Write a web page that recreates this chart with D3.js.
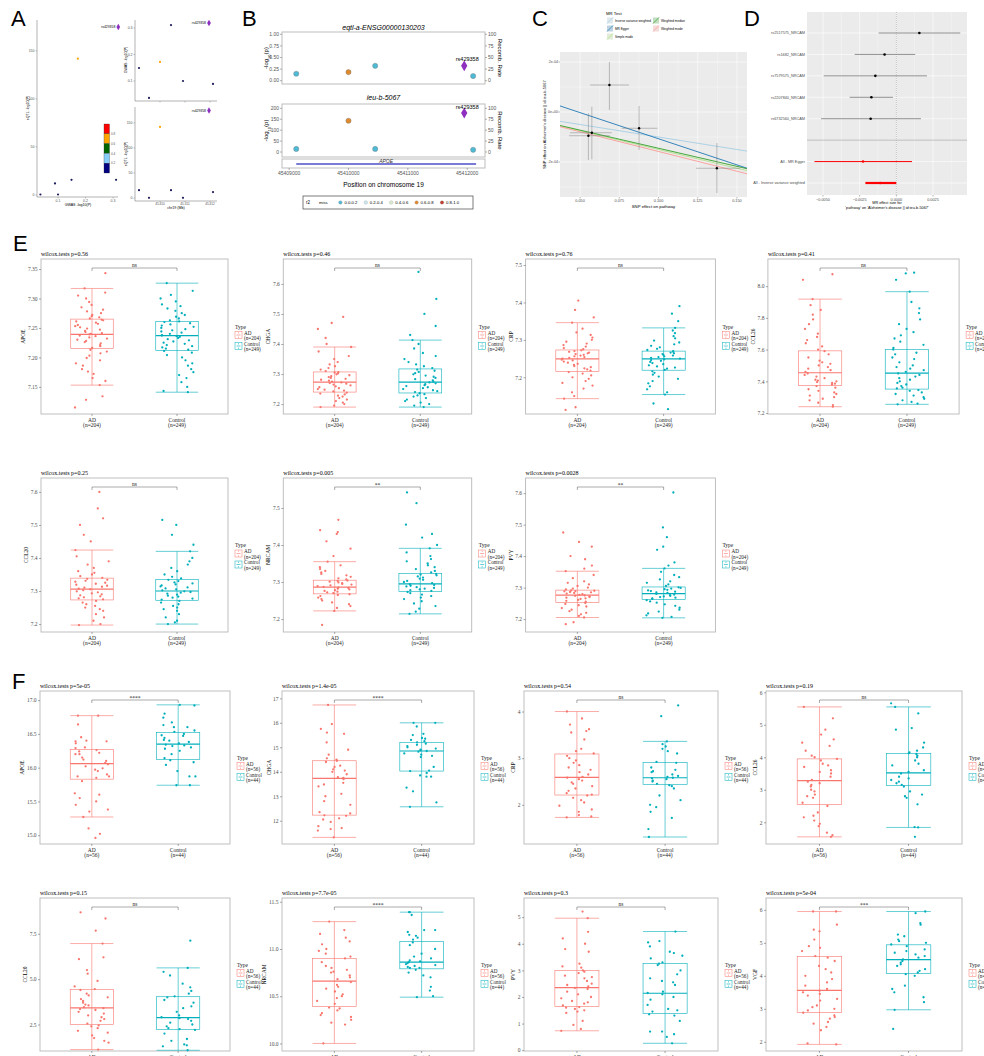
<!DOCTYPE html>
<html>
<head>
<meta charset="utf-8">
<script src="https://cdn.jsdelivr.net/npm/d3@7"></script>
<style>
  body { margin: 0; background: #fff; }
  svg { display: block; }
</style>
</head>
<body>
<div id="figure"></div>
<script>
const width = 984;
const height = 1056;

// ---------- A : locuscompare ----------
const aSnpPos = [45409160, 45409560, 45410000, 45410440, 45410920, 45411960, 45412120];
const aEqtlLogP = [0.149, 0.036, 0.172, 0.311, 0.100, 0.319, 0.089];
const aGwasLogP = [15.8, 0.5, 142, 15.8, 0.5, 175, 12];
const aLdBin = ["low", "low", "high", "low", "low", "lead", "low"];
const aLeadSnp = "rs429358";
const aLdTicks = ["0.8", "0.6", "0.4", "0.2"];

// ---------- B : locuszoom ----------
const bTitles = ["eqtl-a-ENSG00000130203", "ieu-b-5067"];
const bSnpPos = [45409120, 45410000, 45410450, 45411950, 45412100];
const bEqtlLogP = [0.15, 0.185, 0.32, 0.32, 0.10];
const bGwasLogP = [14, 143, 14, 178, 10];
const bR2Bin = ["0.0-0.2", "0.6-0.8", "0.0-0.2", "lead", "0.0-0.2"];
const bR2Levels = ["miss", "0.0-0.2", "0.2-0.4", "0.4-0.6", "0.6-0.8", "0.8-1.0"];
const bPosTicks = [45409000, 45410000, 45411000, 45412000];
const bTopTicks = [0, 0.25, 0.5, 0.75, 1];
const bBottomTicks = [0, 50, 100, 150, 200];
const bRecombTicks = [0, 25, 50, 75, 100];
const bGeneName = "APOE";
const bGeneSpan = [45409120, 45412150];

// ---------- C : MR scatter ----------
const cSnpX = [0.0687, 0.0876, 0.0575, 0.0553, 0.1372];
const cSnpXLo = [0.0564, 0.0766, 0.0436, 0.0430, 0.1240];
const cSnpXHi = [0.0812, 0.0993, 0.0702, 0.0690, 0.1520];
const cSnpY = [1.08e-4, -0.65e-4, -0.83e-4, -0.95e-4, -2.25e-4];
const cSnpYLo = [0.08e-4, -1.52e-4, -1.89e-4, -1.92e-4, -3.24e-4];
const cSnpYHi = [2.0e-4, 0.24e-4, 0.21e-4, -0.05e-4, -1.24e-4];
const cMethods = ["Inverse variance weighted", "MR Egger", "Simple mode", "Weighted median", "Weighted mode"];
const cSlope = [-1.0e-3, -2.09e-3, -1.5e-3, -1.45e-3, -1.58e-3];
const cIntercept = [0, 1.02e-4, 0, 0, 0];
const cXTicks = [0.05, 0.075, 0.1, 0.125, 0.15];
const cYTicks = [-2e-4, 0, 2e-4];
const cYTickLabels = ["-2e-04", "0e+00", "2e-04"];

// ---------- D : MR forest ----------
const dRows = ["rs2517575_NRCAM", "rs1682_NRCAM", "rs7579575_NRCAM", "rs2207840_NRCAM", "rs6732560_NRCAM", "", "All - MR Egger", "All - Inverse variance weighted"];
const dBeta = [0.00157, -0.0008, -0.00143, -0.0017, -0.00175, null, -0.00227, -0.00109];
const dLo = [-0.00121, -0.00284, -0.00495, -0.00318, -0.00513, null, -0.00558, -0.00211];
const dHi = [0.00436, 0.00129, 0.00209, -0.00023, 0.00168, null, 0.00107, 0.0];
const dXTicks = [-0.005, -0.0025, 0, 0.0025];

// ---------- E : GEO expression (AD n=204, Control n=249) ----------
const eGenes = ["APOE", "CHGA", "CRP", "CCL26", "CCL20", "NRCAM", "PVY"];
const eP = ["0.56", "0.46", "0.76", "0.41", "0.25", "0.005", "0.0028"];
const eSig = ["ns", "ns", "ns", "ns", "ns", "**", "**"];
const eN = ["204", "249"];
const eTicks = [[7.15, 7.2, 7.25, 7.3, 7.35], [7.2, 7.3, 7.4, 7.5, 7.6], [7.2, 7.3, 7.4, 7.5], [7.2, 7.4, 7.6, 7.8, 8.0], [7.2, 7.3, 7.4, 7.5, 7.6], [7.2, 7.3, 7.4, 7.5], [7.2, 7.3, 7.4, 7.5, 7.6]];
const eTickFmt = [".2f", ".1f", ".1f", ".1f", ".1f", ".1f", ".1f"];
const eDomain = [[7.104, 7.367], [7.167, 7.683], [7.102, 7.516], [7.194, 8.171], [7.176, 7.642], [7.165, 7.581], [7.159, 7.648]];
const eBoxAD = [[7.153, 7.215, 7.239, 7.265, 7.317], [7.19, 7.24, 7.273, 7.307, 7.39], [7.143, 7.216, 7.249, 7.273, 7.346], [7.24, 7.374, 7.454, 7.592, 7.918], [7.197, 7.273, 7.306, 7.339, 7.424], [7.222, 7.268, 7.286, 7.305, 7.355], [7.205, 7.253, 7.276, 7.292, 7.352]];
const eBoxCt = [[7.141, 7.212, 7.237, 7.261, 7.326], [7.19, 7.237, 7.273, 7.317, 7.413], [7.154, 7.219, 7.249, 7.27, 7.332], [7.255, 7.351, 7.452, 7.60, 7.965], [7.20, 7.272, 7.30, 7.335, 7.42], [7.214, 7.274, 7.295, 7.323, 7.391], [7.204, 7.262, 7.281, 7.302, 7.361]];
const ePtsAD = [
  [7.115,7.128,7.134,7.153,7.16,7.165,7.172,7.176,7.18,7.186,7.19,7.195,7.199,7.203,7.207,7.21,7.213,7.216,7.219,7.221,7.224,7.226,7.228,7.23,7.232,7.234,7.236,7.237,7.239,7.24,7.241,7.243,7.245,7.247,7.249,7.251,7.253,7.255,7.257,7.259,7.261,7.263,7.264,7.266,7.268,7.27,7.272,7.275,7.278,7.281,7.285,7.289,7.294,7.3,7.305,7.31,7.317,7.343],
  [7.19,7.195,7.2,7.205,7.21,7.215,7.22,7.225,7.228,7.232,7.235,7.238,7.242,7.245,7.248,7.25,7.253,7.256,7.259,7.262,7.265,7.268,7.27,7.272,7.275,7.278,7.281,7.284,7.287,7.29,7.293,7.296,7.299,7.302,7.305,7.306,7.31,7.315,7.32,7.326,7.332,7.34,7.35,7.36,7.375,7.39,7.40,7.42,7.45,7.47,7.49],
  [7.113,7.12,7.143,7.15,7.16,7.17,7.178,7.185,7.19,7.196,7.2,7.205,7.21,7.214,7.218,7.221,7.224,7.227,7.23,7.233,7.236,7.239,7.242,7.245,7.247,7.25,7.252,7.254,7.256,7.258,7.26,7.262,7.264,7.266,7.268,7.27,7.272,7.275,7.278,7.282,7.286,7.29,7.295,7.3,7.306,7.313,7.32,7.33,7.346,7.36,7.38,7.405],
  [7.24,7.25,7.265,7.28,7.29,7.3,7.31,7.32,7.33,7.34,7.35,7.36,7.37,7.38,7.385,7.39,7.395,7.4,7.405,7.41,7.42,7.43,7.44,7.45,7.46,7.47,7.48,7.49,7.5,7.51,7.52,7.53,7.55,7.57,7.59,7.6,7.62,7.64,7.66,7.68,7.7,7.73,7.76,7.79,7.82,7.85,7.88,7.918,8.04,8.075],
  [7.197,7.2,7.21,7.22,7.23,7.24,7.245,7.25,7.255,7.26,7.265,7.27,7.275,7.278,7.281,7.284,7.287,7.29,7.293,7.296,7.299,7.302,7.305,7.307,7.31,7.313,7.316,7.319,7.322,7.325,7.328,7.331,7.334,7.337,7.34,7.345,7.35,7.355,7.36,7.37,7.38,7.39,7.405,7.424,7.45,7.47,7.5,7.52,7.55,7.6],
  [7.184,7.222,7.23,7.235,7.24,7.245,7.25,7.254,7.258,7.262,7.265,7.267,7.27,7.272,7.274,7.276,7.278,7.28,7.282,7.284,7.285,7.287,7.289,7.291,7.293,7.295,7.297,7.299,7.301,7.303,7.304,7.307,7.31,7.314,7.318,7.322,7.326,7.33,7.335,7.34,7.345,7.355,7.37,7.39,7.41,7.43,7.435,7.44,7.468],
  [7.184,7.19,7.205,7.21,7.215,7.22,7.225,7.23,7.235,7.24,7.244,7.248,7.251,7.255,7.258,7.261,7.264,7.266,7.268,7.27,7.272,7.274,7.275,7.277,7.279,7.281,7.283,7.285,7.286,7.288,7.289,7.29,7.291,7.294,7.297,7.3,7.305,7.31,7.315,7.32,7.33,7.34,7.352,7.36,7.37,7.39,7.4,7.43,7.445,7.475]
];
const ePtsCt = [
  [7.141,7.143,7.15,7.158,7.165,7.17,7.175,7.18,7.186,7.19,7.195,7.2,7.204,7.208,7.211,7.213,7.215,7.217,7.219,7.221,7.223,7.225,7.227,7.229,7.231,7.233,7.235,7.236,7.237,7.238,7.24,7.242,7.244,7.246,7.248,7.25,7.252,7.254,7.256,7.258,7.26,7.261,7.263,7.266,7.269,7.272,7.275,7.279,7.283,7.287,7.29,7.295,7.3,7.306,7.313,7.326],
  [7.19,7.195,7.2,7.205,7.21,7.215,7.22,7.225,7.229,7.233,7.236,7.24,7.243,7.246,7.25,7.253,7.256,7.26,7.263,7.266,7.269,7.272,7.275,7.279,7.283,7.287,7.291,7.295,7.299,7.303,7.307,7.311,7.315,7.32,7.326,7.332,7.34,7.35,7.36,7.37,7.385,7.4,7.413,7.43,7.46,7.5,7.55,7.64],
  [7.115,7.13,7.154,7.16,7.168,7.176,7.184,7.19,7.196,7.202,7.207,7.212,7.216,7.22,7.223,7.226,7.229,7.232,7.235,7.238,7.241,7.244,7.246,7.248,7.25,7.252,7.254,7.256,7.258,7.26,7.262,7.264,7.266,7.268,7.27,7.273,7.276,7.28,7.284,7.288,7.293,7.298,7.304,7.31,7.318,7.325,7.332,7.35,7.37,7.39],
  [7.255,7.26,7.27,7.28,7.29,7.3,7.31,7.32,7.33,7.34,7.345,7.355,7.36,7.37,7.38,7.39,7.4,7.41,7.42,7.43,7.44,7.45,7.46,7.47,7.48,7.49,7.5,7.52,7.54,7.55,7.57,7.58,7.6,7.61,7.63,7.65,7.67,7.69,7.71,7.73,7.76,7.79,7.83,7.86,7.9,7.965,8.04,8.08,8.085],
  [7.2,7.205,7.21,7.22,7.23,7.24,7.245,7.25,7.255,7.26,7.265,7.27,7.274,7.277,7.28,7.283,7.286,7.289,7.292,7.295,7.297,7.299,7.302,7.305,7.308,7.311,7.314,7.317,7.32,7.323,7.326,7.33,7.334,7.338,7.343,7.35,7.36,7.37,7.38,7.39,7.4,7.42,7.44,7.47,7.5,7.515],
  [7.214,7.22,7.228,7.235,7.242,7.248,7.254,7.258,7.262,7.266,7.27,7.273,7.276,7.278,7.28,7.282,7.284,7.286,7.288,7.29,7.292,7.294,7.297,7.3,7.303,7.306,7.309,7.312,7.315,7.318,7.32,7.322,7.326,7.33,7.335,7.34,7.345,7.35,7.356,7.362,7.37,7.38,7.391,7.4,7.42,7.43,7.455,7.513,7.542],
  [7.204,7.207,7.212,7.218,7.224,7.23,7.236,7.242,7.247,7.252,7.256,7.26,7.264,7.266,7.268,7.27,7.272,7.274,7.276,7.278,7.28,7.283,7.285,7.287,7.289,7.291,7.293,7.295,7.297,7.299,7.301,7.305,7.31,7.315,7.32,7.326,7.333,7.34,7.35,7.361,7.37,7.38,7.42,7.43,7.46,7.491,7.602]
];

// ---------- F : validation set (AD n=56, Control n=44) ----------
const fGenes = ["APOE", "CHGA", "CRP", "CCL26", "CCL20", "NRCAM", "PVY", "VGF"];
const fP = ["5e-05", "1.4e-05", "0.54", "0.19", "0.15", "7.7e-05", "0.3", "5e-04"];
const fSig = ["****", "****", "ns", "ns", "ns", "****", "ns", "***"];
const fN = ["56", "44"];
const fTicks = [[15, 15.5, 16, 16.5, 17], [12, 13, 14, 15, 16, 17], [2, 3, 4], [2, 3, 4, 5, 6], [2.5, 5, 7.5], [10, 10.5, 11, 11.5], [0, 1, 2, 3, 4, 5], [2, 3, 4, 5, 6]];
const fTickFmt = [".1f", "d", "d", "d", ".1f", ".1f", "d", "d"];
const fDomain = [[14.87, 17.135], [11.05, 17.3], [1.16, 4.44], [1.33, 6.04], [1.04, 9.47], [9.92, 11.54], [-0.03, 5.72], [1.72, 6.36]];
const fBoxAD = [[15.27, 15.83, 16.06, 16.27, 16.77], [11.32, 12.23, 13.73, 14.45, 16.73], [1.73, 2.21, 2.59, 3.09, 4.0], [1.55, 2.54, 3.28, 3.95, 5.55], [1.12, 2.5, 3.42, 4.43, 6.96], [10.0, 10.39, 10.66, 10.90, 11.29], [0.73, 1.64, 2.35, 3.0, 4.96], [1.92, 2.89, 3.56, 4.58, 5.95]];
const fBoxCt = [[15.74, 16.12, 16.35, 16.52, 16.93], [12.57, 14.03, 14.85, 15.19, 16.0], [1.31, 2.44, 2.58, 2.91, 3.36], [1.84, 3.13, 3.52, 4.11, 5.55], [1.08, 2.23, 2.88, 4.03, 5.62], [10.49, 10.79, 10.86, 11.08, 11.39], [0.26, 1.38, 2.14, 3.26, 4.46], [2.97, 4.07, 4.49, 4.94, 5.95]];
const fPtsAD = [
  [14.96,15.02,15.1,15.27,15.35,15.38,15.45,15.5,15.55,15.6,15.62,15.8,15.85,15.87,15.87,15.9,15.95,15.97,15.99,16.02,16.05,16.07,16.1,16.12,16.15,16.2,16.2,16.22,16.24,16.26,16.29,16.3,16.36,16.39,16.39,16.4,16.45,16.64,16.77,16.77],
  [11.32,11.6,11.66,11.7,11.78,11.95,12.05,12.1,12.2,12.22,12.3,12.35,12.65,12.8,13.0,13.1,13.4,13.48,13.55,13.7,13.75,13.78,13.9,14.0,14.05,14.1,14.2,14.25,14.4,14.45,14.5,14.55,14.7,14.9,15.2,15.55,15.6,15.75,15.95,16.73],
  [1.73,1.75,1.78,1.85,1.9,1.98,2.05,2.1,2.15,2.2,2.22,2.25,2.3,2.35,2.4,2.45,2.48,2.52,2.55,2.58,2.6,2.65,2.7,2.75,2.8,2.85,2.9,2.95,3.0,3.05,3.1,3.15,3.2,3.4,3.55,3.58,3.62,3.72,3.85,4.0],
  [1.55,1.6,1.68,1.88,1.95,2.05,2.15,2.2,2.3,2.5,2.6,2.75,2.8,2.85,2.95,3.0,3.1,3.15,3.2,3.25,3.3,3.4,3.5,3.55,3.6,3.7,3.75,3.8,3.9,3.95,4.0,4.05,4.2,4.35,4.45,4.55,4.7,4.85,5.2,5.55],
  [1.12,1.5,1.6,1.75,1.9,2.05,2.15,2.3,2.4,2.45,2.55,2.7,2.8,2.9,3.0,3.1,3.2,3.3,3.35,3.4,3.45,3.55,3.6,3.7,3.8,3.9,4.0,4.1,4.2,4.4,4.45,4.6,4.9,5.3,5.5,6.1,6.2,6.96,7.67,8.34,8.68],
  [10.0,10.2,10.22,10.25,10.28,10.3,10.32,10.35,10.37,10.38,10.42,10.45,10.48,10.5,10.52,10.55,10.58,10.6,10.62,10.65,10.68,10.7,10.72,10.75,10.76,10.78,10.8,10.82,10.86,10.9,10.92,10.95,10.98,11.0,11.05,11.08,11.12,11.16,11.2,11.29],
  [0.73,0.8,0.95,1.1,1.4,1.45,1.5,1.55,1.6,1.62,1.68,1.75,1.8,1.85,1.95,2.0,2.1,2.2,2.3,2.34,2.4,2.45,2.5,2.6,2.7,2.75,2.8,2.9,2.95,3.0,3.1,3.15,3.25,3.7,3.8,4.0,4.2,4.45,4.96,5.21],
  [1.92,1.95,2.35,2.45,2.55,2.6,2.7,2.75,2.8,2.88,2.95,3.0,3.05,3.1,3.25,3.3,3.4,3.45,3.5,3.55,3.6,3.7,3.8,3.9,4.0,4.1,4.2,4.3,4.45,4.55,4.6,4.75,4.85,4.9,5.1,5.35,5.4,5.55,5.95,5.95]
];
const fPtsCt = [
  [15.74,15.74,15.87,15.87,15.95,16.04,16.08,16.11,16.14,16.2,16.25,16.28,16.3,16.32,16.33,16.34,16.36,16.38,16.4,16.41,16.44,16.47,16.48,16.5,16.53,16.55,16.6,16.6,16.63,16.67,16.74,16.8,16.92,16.93],
  [12.57,12.75,13.2,13.35,13.8,13.8,13.85,13.95,14.03,14.05,14.2,14.6,14.65,14.7,14.75,14.82,14.85,14.88,14.9,14.95,15.0,15.05,15.1,15.15,15.2,15.25,15.3,15.35,15.38,15.5,15.55,15.85,16.0,16.0],
  [1.31,1.48,1.72,1.85,1.95,2.0,2.1,2.2,2.35,2.4,2.42,2.45,2.5,2.52,2.55,2.57,2.58,2.6,2.62,2.65,2.7,2.72,2.75,2.8,2.9,2.92,3.1,3.15,3.2,3.25,3.3,3.36,3.9,4.13],
  [1.55,1.84,1.85,2.55,2.75,2.8,2.85,2.95,3.1,3.15,3.2,3.25,3.3,3.35,3.4,3.5,3.55,3.6,3.75,3.8,3.9,4.0,4.05,4.1,4.12,4.15,4.2,4.3,4.45,4.85,4.9,5.35,5.55,5.66],
  [1.08,1.3,1.35,1.4,1.6,1.7,2.0,2.2,2.25,2.3,2.4,2.5,2.6,2.7,2.8,2.85,2.9,3.0,3.2,3.4,3.5,3.7,3.85,4.0,4.05,4.2,4.35,4.55,4.75,5.2,5.4,5.62,7.12],
  [10.49,10.5,10.56,10.6,10.7,10.72,10.75,10.78,10.8,10.8,10.81,10.82,10.83,10.84,10.85,10.86,10.87,10.88,10.9,10.92,10.95,11.0,11.04,11.07,11.1,11.12,11.14,11.15,11.18,11.2,11.2,11.36,11.39,11.39],
  [0.26,0.5,0.6,0.7,0.7,1.1,1.3,1.35,1.45,1.5,1.55,1.7,1.9,2.0,2.1,2.15,2.2,2.45,2.55,2.6,2.7,2.85,3.0,3.2,3.25,3.3,3.45,3.55,3.65,3.7,3.9,4.05,4.1,4.46],
  [2.39,2.97,3.2,3.35,3.5,3.6,3.7,4.0,4.05,4.1,4.15,4.2,4.3,4.35,4.4,4.45,4.5,4.55,4.6,4.65,4.7,4.75,4.8,4.9,4.95,5.0,5.05,5.1,5.2,5.25,5.55,5.6,5.9,5.95]
];

// ---------- drawing ----------
const sans = '"Liberation Sans", Arial, sans-serif';
const serif = '"Liberation Serif", "Times New Roman", serif';
const adColor = "#F8766D";
const ctColor = "#00AFBB";

var svg = d3.select("#figure")
    .append("svg")
    .attr("width", width)
    .attr("height", height);

function label(g, x, y, s, size, opt) {
    opt = opt || {};
    const t = g.append("text")
        .attr("x", x).attr("y", y)
        .text(s)
        .style("font-family", opt.font || sans)
        .style("font-size", size + "px")
        .attr("fill", opt.fill || "#000");
    if (opt.anchor) t.attr("text-anchor", opt.anchor);
    if (opt.rotate) t.attr("transform", "rotate(" + opt.rotate + "," + x + "," + y + ")");
    if (opt.italic) t.style("font-style", "italic");
    return t;
}

function line(g, x1, y1, x2, y2, color, w) {
    return g.append("line")
        .attr("x1", x1).attr("y1", y1).attr("x2", x2).attr("y2", y2)
        .attr("stroke", color).attr("stroke-width", w);
}

// panel letters
[["A", 11, 26], ["B", 242, 26], ["C", 532, 26], ["D", 744, 26], ["E", 13, 251], ["F", 12, 689]]
    .forEach(d => label(svg, d[1], d[2], d[0], 22));

// ===== Panel A =====
(function () {
    const g = svg.append("g");
    const ldColor = { low: "#1c1c5a", high: "#FFA500", lead: "#8E2FBF" };
    const axc = "#666";
    const xMain = d3.scaleLinear().domain([0.0236, 0.318]).range([37, 118]);
    const yMain = d3.scaleLinear().domain([-2.1, 182.3]).range([197, 20]);
    line(g, 37, 20, 37, 197, axc, 0.5);
    line(g, 37, 197, 118, 197, axc, 0.5);
    [0, 50, 100, 150].forEach(v => {
        line(g, 35.5, yMain(v), 37, yMain(v), axc, 0.4);
        label(g, 34.5, yMain(v) + 1.2, v, 3.5, { anchor: "end", fill: "#555" });
    });
    [0.1, 0.2, 0.3].forEach(v => {
        line(g, xMain(v), 197, xMain(v), 198.5, axc, 0.4);
        label(g, xMain(v), 201.5, v.toFixed(1), 3.5, { anchor: "middle", fill: "#555" });
    });
    label(g, 78, 205.5, "GWAS -log10(P)", 3.6, { anchor: "middle" });
    label(g, 29, 108, "eQTL -log10(P)", 3.6, { anchor: "middle", rotate: -90 });

    // colour bar
    const ldBar = ["#FF0000", "#FFA500", "#006400", "#87CEFA", "#000080"];
    const yBar = d3.scaleBand().domain(d3.range(ldBar.length)).range([124, 173]);
    g.selectAll(".ldbar").data(ldBar).join("rect")
        .attr("x", 104).attr("y", (d, i) => yBar(i))
        .attr("width", 5.5).attr("height", yBar.bandwidth())
        .attr("fill", d => d).attr("stroke", "#333").attr("stroke-width", 0.3);
    aLdTicks.forEach((t, i) => label(g, 111, yBar(i + 1) + 1.2, t, 3, { fill: "#555" }));

    function snps(xs, ys, xs2, ys2) {
        aLdBin.forEach((b, i) => {
            if (b === "lead") {
                g.append("path")
                    .attr("d", d3.symbol(d3.symbolDiamond).size(12)())
                    .attr("transform", "translate(" + xs(xs2[i]) + "," + ys(ys2[i]) + ")")
                    .attr("fill", ldColor.lead);
                label(g, xs(xs2[i]) - 3, ys(ys2[i]) + 1.2, aLeadSnp, 3.4, { anchor: "end" });
            } else {
                g.append("circle").attr("cx", xs(xs2[i])).attr("cy", ys(ys2[i])).attr("r", 1.1)
                    .attr("fill", ldColor[b]);
            }
        });
    }
    snps(xMain, yMain, aEqtlLogP, aGwasLogP);

    const xPos = d3.scaleLinear().domain([45409000, 45412280]).range([135, 217]);
    const yTop = d3.scaleLinear().domain([0.0245, 0.33]).range([101, 20]);
    const yBot = d3.scaleLinear().domain([-5.9, 181.8]).range([201, 107]);
    line(g, 135, 20, 135, 101, axc, 0.5);
    line(g, 135, 101, 217, 101, axc, 0.5);
    line(g, 135, 107, 135, 201, axc, 0.5);
    line(g, 135, 201, 217, 201, axc, 0.5);
    [0.1, 0.2, 0.3].forEach(v => {
        line(g, 133.5, yTop(v), 135, yTop(v), axc, 0.4);
        label(g, 132.5, yTop(v) + 1.2, v.toFixed(1), 3.5, { anchor: "end", fill: "#555" });
    });
    [0, 50, 100, 150].forEach(v => {
        line(g, 133.5, yBot(v), 135, yBot(v), axc, 0.4);
        label(g, 132.5, yBot(v) + 1.2, v, 3.5, { anchor: "end", fill: "#555" });
    });
    [45410000, 45411000, 45412000].forEach(v => {
        line(g, xPos(v), 101, xPos(v), 102.5, axc, 0.4);
        line(g, xPos(v), 201, xPos(v), 202.5, axc, 0.4);
        label(g, xPos(v), 205, (v / 1e6).toFixed(3), 3.2, { anchor: "middle", fill: "#555" });
    });
    label(g, 176, 208.5, "chr19 (Mb)", 3.6, { anchor: "middle" });
    label(g, 127, 60, "GWAS -log10(P)", 3.6, { anchor: "middle", rotate: -90 });
    label(g, 127, 154, "eQTL -log10(P)", 3.6, { anchor: "middle", rotate: -90 });
    snps(xPos, yTop, aSnpPos, aEqtlLogP);
    snps(xPos, yBot, aSnpPos, aGwasLogP);
})();

// ===== Panel B =====
(function () {
    const g = svg.append("g");
    const r2Color = { "miss": "none", "0.0-0.2": "#4DBBD5", "0.2-0.4": "#c9e8ef", "0.4-0.6": "#d8ecd0", "0.6-0.8": "#E08A2E", "0.8-1.0": "#C0392B" };
    const left = 282, right = 485;
    const x = d3.scaleLinear().domain([45408880, 45412300]).range([left, right]);
    const panels = [
        { top: 32, bottom: 84, y: d3.scaleLinear().domain([0, 1]).range([80.7, 34.3]), ticks: bTopTicks, fmt: d3.format(".2f"), vals: bEqtlLogP, title: bTitles[0], ty: 29.5 },
        { top: 104, bottom: 157, y: d3.scaleLinear().domain([0, 200]).range([152, 108.3]), ticks: bBottomTicks, fmt: d3.format("d"), vals: bGwasLogP, title: bTitles[1], ty: 100 }
    ];
    panels.forEach(p => {
        label(g, (left + right) / 2, p.ty, p.title, 7, { anchor: "middle", italic: true });
        g.append("rect").attr("x", left).attr("y", p.top).attr("width", right - left).attr("height", p.bottom - p.top)
            .attr("fill", "#fff").attr("stroke", "#bdbdbd").attr("stroke-width", 1);
        p.ticks.forEach(v => {
            line(g, left - 2, p.y(v), left, p.y(v), "#666", 0.5);
            label(g, left - 3, p.y(v) + 1.7, p.fmt(v), 5, { anchor: "end", fill: "#555" });
        });
        const yr = d3.scaleLinear().domain([0, 100]).range(p.y.range());
        bRecombTicks.forEach(v => {
            line(g, right, yr(v), right + 2, yr(v), "#666", 0.5);
            label(g, right + 3, yr(v) + 1.7, v, 5, { fill: "#555" });
        });
        const mid = (p.top + p.bottom) / 2;
        const yl = label(g, 268, mid, "-log", 6, { anchor: "middle", rotate: -90 });
        yl.append("tspan").attr("baseline-shift", "sub").style("font-size", "4px").text("10");
        yl.append("tspan").text("(p)");
        label(g, 498, mid, "Recomb. Rate", 6, { anchor: "middle", rotate: 90 });
        bR2Bin.forEach((b, i) => {
            if (b === "lead") {
                g.append("path")
                    .attr("d", d3.symbol(d3.symbolDiamond).size(34)())
                    .attr("transform", "translate(" + x(bSnpPos[i]) + "," + p.y(p.vals[i]) + ")")
                    .attr("fill", "#8E2FBF");
                label(g, x(bSnpPos[i]) + 3, p.y(p.vals[i]) - 4.5, "rs429358", 5.5, { anchor: "middle" });
            } else {
                g.append("circle").attr("cx", x(bSnpPos[i])).attr("cy", p.y(p.vals[i])).attr("r", 2.6)
                    .attr("fill", r2Color[b]).attr("stroke", "#777").attr("stroke-width", 0.4);
            }
        });
    });
    // gene track
    g.append("rect").attr("x", left).attr("y", 159).attr("width", right - left).attr("height", 9)
        .attr("fill", "#fff").attr("stroke", "#bdbdbd").attr("stroke-width", 1);
    line(g, x(bGeneSpan[0]), 164, x(bGeneSpan[1]), 164, "#4F4FC8", 1.6);
    label(g, (x(bGeneSpan[0]) + x(bGeneSpan[1])) / 2, 163, bGeneName, 5, { anchor: "middle", italic: true, fill: "#333" });
    bPosTicks.forEach(v => {
        line(g, x(v), 168, x(v), 170, "#666", 0.5);
        label(g, x(v), 175, v, 5, { anchor: "middle", fill: "#555" });
    });
    label(g, (left + right) / 2, 187, "Position on chromosome 19", 6.5, { anchor: "middle" });
    // legend
    g.append("rect").attr("x", 303).attr("y", 196).attr("width", 170).attr("height", 13)
        .attr("fill", "#fff").attr("stroke", "#444").attr("stroke-width", 0.7);
    label(g, 306, 204.3, "r2", 4.5);
    bR2Levels.forEach((lv, i) => {
        const kx = 315 + i * 25.4;
        g.append("circle").attr("cx", kx).attr("cy", 202.5).attr("r", 1.8)
            .attr("fill", r2Color[lv]).attr("stroke", lv === "miss" ? "none" : "#999").attr("stroke-width", 0.3);
        label(g, kx + 4, 204.2, lv, 4.2);
    });
})();

// ===== Panel C =====
(function () {
    const g = svg.append("g");
    const methodColor = ["#A6CEE3", "#1F78B4", "#B2DF8A", "#33A02C", "#FB9A99"];
    const L = 560, R = 747, T = 52, B = 197;
    const x = d3.scaleLinear().domain([0.0372, 0.1564]).range([L, R]);
    const y = d3.scaleLinear().domain([-3.4e-4, 2.4e-4]).range([B, T]);
    g.append("rect").attr("x", L).attr("y", T).attr("width", R - L).attr("height", B - T).attr("fill", "#EBEBEB");
    [0.0625, 0.0875, 0.1125, 0.1375].forEach(v => line(g, x(v), T, x(v), B, "#fff", 0.3));
    [-3e-4, -1e-4, 1e-4].forEach(v => line(g, L, y(v), R, y(v), "#fff", 0.3));
    cXTicks.forEach(v => line(g, x(v), T, x(v), B, "#fff", 0.6));
    cYTicks.forEach(v => line(g, L, y(v), R, y(v), "#fff", 0.6));

    g.append("clipPath").attr("id", "clipC").append("rect")
        .attr("x", L).attr("y", T).attr("width", R - L).attr("height", B - T);
    const lines = g.append("g").attr("clip-path", "url(#clipC)");
    cMethods.forEach((m, i) => {
        const f = v => cIntercept[i] + cSlope[i] * v;
        lines.append("line")
            .attr("x1", x(0.0372)).attr("y1", y(f(0.0372)))
            .attr("x2", x(0.1564)).attr("y2", y(f(0.1564)))
            .attr("stroke", methodColor[i]).attr("stroke-width", 0.9);
    });
    cSnpX.forEach((v, i) => {
        line(g, x(v), y(cSnpYLo[i]), x(v), y(cSnpYHi[i]), "#777", 0.45);
        line(g, x(cSnpXLo[i]), y(cSnpY[i]), x(cSnpXHi[i]), y(cSnpY[i]), "#777", 0.45);
        g.append("circle").attr("cx", x(v)).attr("cy", y(cSnpY[i])).attr("r", 1.2).attr("fill", "#000");
    });
    cXTicks.forEach(v => {
        line(g, x(v), B, x(v), B + 1.5, "#444", 0.4);
        label(g, x(v), B + 5, d3.format(".3f")(v), 3.8, { anchor: "middle", fill: "#4d4d4d" });
    });
    cYTicks.forEach((v, i) => {
        line(g, L - 1.5, y(v), L, y(v), "#444", 0.4);
        label(g, L - 2, y(v) + 1.2, cYTickLabels[i], 3.6, { anchor: "end", fill: "#4d4d4d" });
    });
    label(g, (L + R) / 2, 208, "SNP effect on pathway", 4.3, { anchor: "middle" });
    label(g, 546, (T + B) / 2, "SNP effect on Alzheimer's disease || id:ieu-b-5067", 4, { anchor: "middle", rotate: -90 });

    // legend
    label(g, 606, 15, "MR Test", 4.3);
    const slots = [[607, 17.5], [607, 25.5], [607, 33.5], [653, 17.5], [653, 25.5]];
    cMethods.forEach((m, i) => {
        const kx = slots[i][0], ky = slots[i][1];
        g.append("rect").attr("x", kx).attr("y", ky).attr("width", 6).attr("height", 6)
            .attr("fill", "#F2F2F2");
        g.append("rect").attr("x", kx).attr("y", ky).attr("width", 6).attr("height", 6)
            .attr("fill", methodColor[i]).attr("opacity", 0.25);
        line(g, kx, ky + 6, kx + 6, ky, methodColor[i], 0.7);
        label(g, kx + 8, ky + 4.2, m, 3.1);
    });
})();

// ===== Panel D =====
(function () {
    const g = svg.append("g");
    const L = 807, R = 967, T = 12, B = 195;
    const x = d3.scaleLinear().domain([-0.00609, 0.00482]).range([L, R]);
    const y = d3.scalePoint().domain(dRows).range([33, 183]);
    g.append("rect").attr("x", L).attr("y", T).attr("width", R - L).attr("height", B - T).attr("fill", "#EBEBEB");
    [-0.00375, -0.00125, 0.00125, 0.00375].forEach(v => line(g, x(v), T, x(v), B, "#fff", 0.3));
    dXTicks.forEach(v => line(g, x(v), T, x(v), B, "#fff", 0.6));
    dRows.forEach(r => { if (r !== "") line(g, L, y(r), R, y(r), "#fff", 0.6); });
    line(g, L, y(""), R, y(""), "#A0A0A0", 0.6);
    line(g, x(0), T, x(0), B, "#9a9a9a", 0.6).attr("stroke-dasharray", "1,1");
    dRows.forEach((r, i) => {
        if (dBeta[i] === null) return;
        const mr = i > 5;
        const col = mr ? "#FF0000" : "#777";
        const w = i === 7 ? 2.2 : (mr ? 1.0 : 0.8);
        line(g, x(dLo[i]), y(r), x(dHi[i]), y(r), col, w);
        g.append("circle").attr("cx", x(dBeta[i])).attr("cy", y(r)).attr("r", 1.3)
            .attr("fill", mr ? "#FF0000" : "#000");
        label(g, L - 2, y(r) + 1.3, r, 3.8, { anchor: "end", fill: "#4d4d4d" });
    });
    dXTicks.forEach(v => {
        line(g, x(v), B, x(v), B + 1.5, "#444", 0.4);
        label(g, x(v), B + 5.5, d3.format(".4f")(v), 3.8, { anchor: "middle", fill: "#4d4d4d" });
    });
    label(g, (L + R) / 2, 204.3, "MR effect size for", 3.8, { anchor: "middle" });
    label(g, (L + R) / 2, 208.6, "'pathway' on 'Alzheimer's disease || id:ieu-b-5067'", 3.8, { anchor: "middle" });
})();

// ===== E / F boxplots =====
function jitter(i, seed) {
    const s = Math.sin(i * 127.1 + seed * 311.7) * 43758.5453;
    return (s - Math.floor(s)) - 0.5;
}

function boxPanel(p) {
    const g = svg.append("g");
    const x = d3.scaleLinear().domain([0.4, 2.6]).range([p.left, p.right]);
    const y = d3.scaleLinear().domain(p.domain).range([p.bottom, p.top]);
    const mid = (p.top + p.bottom) / 2;

    g.append("rect").attr("x", p.left).attr("y", p.top)
        .attr("width", p.right - p.left).attr("height", p.bottom - p.top)
        .attr("fill", "#fff").attr("stroke", "#b8b8b8").attr("stroke-width", 0.9);
    label(g, p.left, p.top - 3, "wilcox.tests p=" + p.p, 6, { font: serif });

    const ax = g.append("g").attr("transform", "translate(" + p.left + ",0)")
        .call(d3.axisLeft(y).tickValues(p.ticks).tickFormat(d3.format(p.fmt)).tickSize(2).tickPadding(1.5));
    ax.select(".domain").remove();
    ax.selectAll("line").attr("stroke", "#555").attr("stroke-width", 0.5);
    ax.selectAll("text").style("font-family", serif).style("font-size", "5.5px").attr("fill", "#4d4d4d");
    // gene name sits just left of the widest tick label
    const tickW = d3.max(ax.selectAll("text").nodes(), n => n.getComputedTextLength());
    label(g, p.left - 4 - tickW - 2, mid, p.gene, 5.5, { font: serif, anchor: "middle", rotate: -90 });

    const groups = [
        { pos: 1, name: "AD", n: p.n[0], box: p.boxAD, pts: p.ptsAD, col: adColor },
        { pos: 2, name: "Control", n: p.n[1], box: p.boxCt, pts: p.ptsCt, col: ctColor }
    ];
    groups.forEach((gr, k) => {
        const cx = x(gr.pos), x0 = x(gr.pos - 0.25), x1 = x(gr.pos + 0.25);
        const b = gr.box;
        line(g, cx, p.bottom, cx, p.bottom + 2, "#555", 0.5);
        label(g, cx, p.bottom + 7.5, gr.name, 5.5, { font: serif, anchor: "middle", fill: "#222" });
        label(g, cx, p.bottom + 13, "(n=" + gr.n + ")", 5.5, { font: serif, anchor: "middle", fill: "#222" });
        line(g, cx, y(b[0]), cx, y(b[4]), gr.col, 0.6);
        line(g, x0, y(b[0]), x1, y(b[0]), gr.col, 0.6);
        line(g, x0, y(b[4]), x1, y(b[4]), gr.col, 0.6);
        g.append("rect").attr("x", x0).attr("y", y(b[3])).attr("width", x1 - x0).attr("height", y(b[1]) - y(b[3]))
            .attr("fill", "none").attr("stroke", gr.col).attr("stroke-width", 0.6);
        line(g, x0, y(b[2]), x1, y(b[2]), gr.col, 1.2);
        g.selectAll(null).data(gr.pts).join("circle")
            .attr("cx", (d, i) => x(gr.pos + 0.4 * jitter(i, p.seed + k)))
            .attr("cy", d => y(d))
            .attr("r", p.r)
            .attr("fill", gr.col);

        // legend key
        const ky = k === 0 ? mid - 5 : mid + 6;
        const kx = p.right + 7;
        g.append("rect").attr("x", kx).attr("y", ky).attr("width", 7).attr("height", 7)
            .attr("fill", "#fff").attr("stroke", gr.col).attr("stroke-width", 0.5);
        line(g, kx + 1.5, ky + 3.5, kx + 5.5, ky + 3.5, gr.col, 0.6);
        line(g, kx + 3.5, ky + 0.5, kx + 3.5, ky + 2, gr.col, 0.5);
        line(g, kx + 3.5, ky + 5, kx + 3.5, ky + 6.5, gr.col, 0.5);
        label(g, kx + 9, ky + 3.2, gr.name, 5.2, { font: serif, fill: "#222" });
        label(g, kx + 9, ky + 8.6, "(n=" + gr.n + ")", 5.2, { font: serif, fill: "#222" });
    });
    label(g, p.right + 7, mid - 8, "Type", 5.5, { font: serif, fill: "#222" });

    // significance bracket
    const by = p.top + 9;
    g.append("path")
        .attr("d", "M" + x(1) + "," + (by + 3) + "V" + by + "H" + x(2) + "V" + (by + 3))
        .attr("fill", "none").attr("stroke", "#555").attr("stroke-width", 0.5);
    label(g, x(1.5), by - (p.sig === "ns" ? 1.5 : 0), p.sig, 5.5, { font: serif, anchor: "middle", fill: "#222" });
}

eGenes.forEach((gene, i) => {
    const row = Math.floor(i / 4), col = i % 4;
    boxPanel({
        left: 41 + col * 242.3, right: 228 + col * 243.7,
        top: [259, 478][row], bottom: [414, 632][row],
        gene: gene, p: eP[i], sig: eSig[i], ticks: eTicks[i], fmt: eTickFmt[i], domain: eDomain[i],
        boxAD: eBoxAD[i], boxCt: eBoxCt[i], ptsAD: ePtsAD[i], ptsCt: ePtsCt[i], n: eN,
        r: 1.15, seed: i * 2
    });
});

fGenes.forEach((gene, i) => {
    const row = Math.floor(i / 4), col = i % 4;
    boxPanel({
        left: 40 + col * 242, right: 230 + col * 244,
        top: [691, 898][row], bottom: [844, 1051][row],
        gene: gene, p: fP[i], sig: fSig[i], ticks: fTicks[i], fmt: fTickFmt[i], domain: fDomain[i],
        boxAD: fBoxAD[i], boxCt: fBoxCt[i], ptsAD: fPtsAD[i], ptsCt: fPtsCt[i], n: fN,
        r: 1.15, seed: 40 + i * 2
    });
});
</script>
</body>
</html>
